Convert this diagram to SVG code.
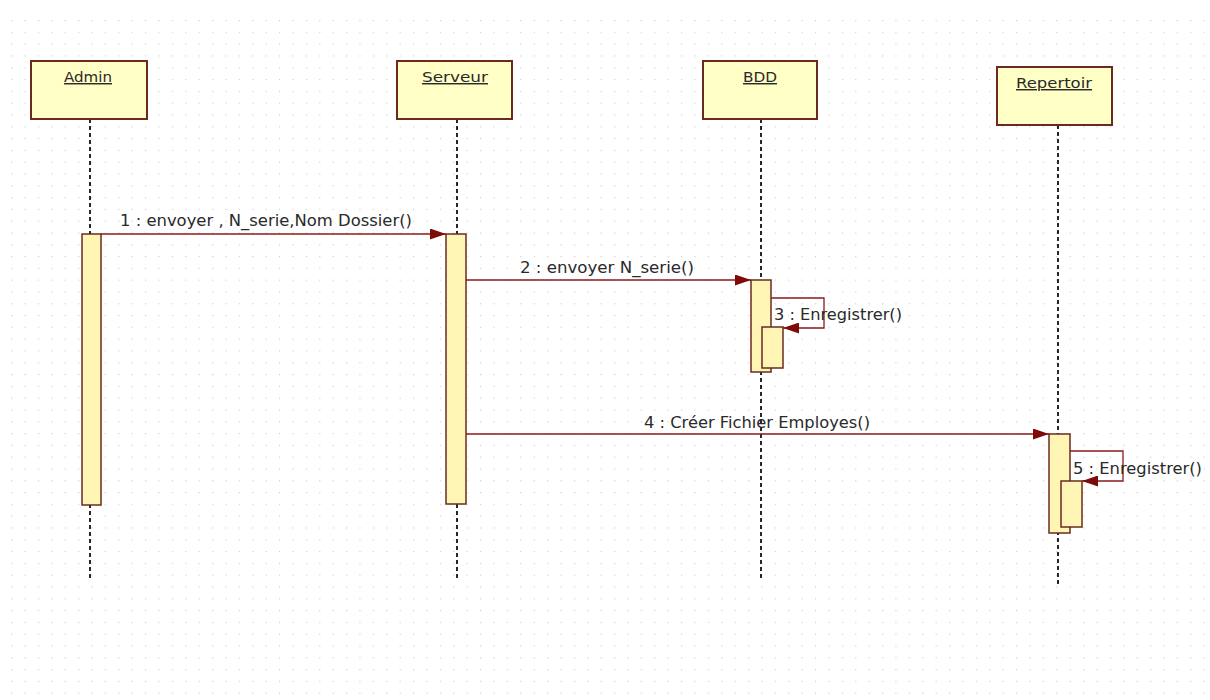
<svg xmlns="http://www.w3.org/2000/svg" width="1210" height="700" viewBox="0 0 1210 700">
<defs>
<pattern id="grid" x="11" y="20" width="13.4" height="11.8" patternUnits="userSpaceOnUse">
<rect x="0" y="0" width="1.2" height="1.2" fill="#cfcfcf"/>
</pattern>
<marker id="arr" viewBox="0 0 16 11" refX="16" refY="5.5" markerWidth="16" markerHeight="11" markerUnits="userSpaceOnUse" orient="auto">
<path d="M0,0 L16,5.5 L0,11 Z" fill="#7f0a0a"/>
</marker>
<style>
.box{fill:#ffffc6;stroke:#6b2a20;stroke-width:2}
.act{fill:#fff5b4;stroke:#6b2a20;stroke-width:1.5}
.life{stroke:#111;stroke-width:1.8;stroke-dasharray:4 3;fill:none}
.msg{stroke:#8b1a1a;stroke-width:1.3;fill:none}
.name{font-family:"DejaVu Sans",sans-serif;font-size:14.5px;fill:#2a2a2a;text-decoration:underline}
.lbl{font-family:"DejaVu Sans",sans-serif;font-size:15px;fill:#2a2a2a}
</style>
</defs>
<rect x="0" y="0" width="1210" height="700" fill="#ffffff"/>
<rect x="8" y="10" width="1202" height="690" fill="url(#grid)"/>

<g id="lifelines">
<line class="life" x1="90" y1="119" x2="90" y2="578"/>
<line class="life" x1="457" y1="119" x2="457" y2="578"/>
<line class="life" x1="761" y1="119" x2="761" y2="578"/>
<line class="life" x1="1058" y1="125" x2="1058" y2="584"/>
</g>

<g id="Admin">
<rect class="box" x="31" y="61" width="116" height="58"/>
<text class="name" x="64" y="82" textLength="48" lengthAdjust="spacingAndGlyphs">Admin</text>
<rect class="act" x="82" y="234" width="19" height="271"/>
</g>
<g id="Serveur">
<rect class="box" x="397" y="61" width="115" height="58"/>
<text class="name" x="422" y="82" textLength="66" lengthAdjust="spacingAndGlyphs">Serveur</text>
<rect class="act" x="446" y="234" width="20" height="270"/>
</g>
<g id="BDD">
<rect class="box" x="703" y="61" width="114" height="58"/>
<text class="name" x="743" y="82" textLength="34" lengthAdjust="spacingAndGlyphs">BDD</text>
<rect class="act" x="751" y="280" width="20" height="92"/>
<rect class="act" x="762" y="327" width="21" height="41"/>
</g>
<g id="Repertoir">
<rect class="box" x="997" y="67" width="115" height="58"/>
<text class="name" x="1016" y="88" textLength="76" lengthAdjust="spacingAndGlyphs">Repertoir</text>
<rect class="act" x="1049" y="434" width="21" height="99"/>
<rect class="act" x="1061" y="481" width="21" height="46"/>
</g>

<g id="connectors">
<line class="msg" x1="101" y1="234" x2="446" y2="234" marker-end="url(#arr)"/>
<line class="msg" x1="466" y1="280" x2="751" y2="280" marker-end="url(#arr)"/>
<polyline class="msg" points="771,298 824,298 824,328 783,328" marker-end="url(#arr)"/>
<line class="msg" x1="466" y1="434" x2="1049" y2="434" marker-end="url(#arr)"/>
<polyline class="msg" points="1070,451 1123,451 1123,481 1082,481" marker-end="url(#arr)"/>
</g>

<g id="labels">
<text class="lbl" x="120" y="226" textLength="292" lengthAdjust="spacingAndGlyphs">1 : envoyer , N_serie,Nom Dossier()</text>
<text class="lbl" x="520" y="273" textLength="174" lengthAdjust="spacingAndGlyphs">2 : envoyer N_serie()</text>
<text class="lbl" x="774" y="320" textLength="128" lengthAdjust="spacingAndGlyphs">3 : Enregistrer()</text>
<text class="lbl" x="644" y="428" textLength="226" lengthAdjust="spacingAndGlyphs">4 : Créer Fichier Employes()</text>
<text class="lbl" x="1073" y="474" textLength="129" lengthAdjust="spacingAndGlyphs">5 : Enregistrer()</text>
</g>
</svg>
